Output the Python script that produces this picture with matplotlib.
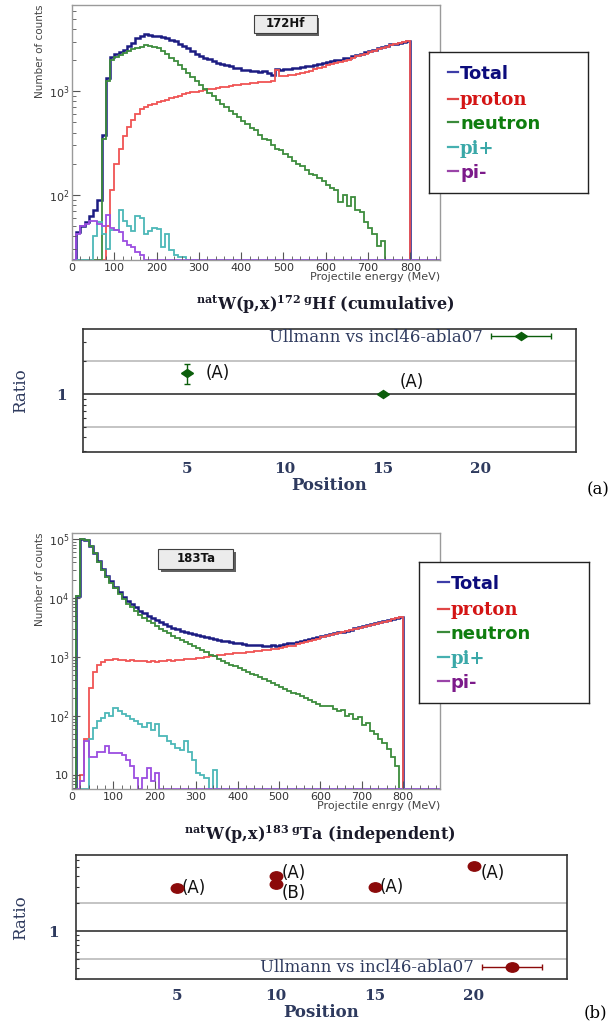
import matplotlib

matplotlib.use("Agg")

import matplotlib.pyplot as plt
import numpy as np
from matplotlib.legend_handler import HandlerErrorbar
from matplotlib.markers import MarkerStyle
from matplotlib.patches import Rectangle
from matplotlib.ticker import FuncFormatter, LogLocator, MultipleLocator, NullFormatter
from matplotlib.transforms import Affine2D

BIN_MEV = 10  # histogram bin width, bins start at 0 MeV

# ---- natW(p,x)172Hf : counts per bin ----
hf_total = [
    0, 44, 50, 55, 62, 72, 90, 380, 1350, 2150,
    2300, 2400, 2500, 2750, 2950, 3250, 3450, 3550, 3500, 3450,
    3400, 3350, 3250, 3150, 3050, 2900, 2750, 2600, 2450, 2300,
    2200, 2100, 2050, 1950, 1900, 1850, 1780, 1750, 1700, 1680,
    1620, 1600, 1580, 1560, 1540, 1560, 1520, 1430, 1650, 1620,
    1660, 1650, 1680, 1700, 1720, 1740, 1760, 1800, 1830, 1870,
    1910, 1950, 1990, 2030, 2080, 2120, 2200, 2250, 2300, 2380,
    2450, 2500, 2600, 2700, 2750, 2850, 2900, 2950, 3000, 3100,
]
hf_proton = [
    0, 0, 0, 0, 0, 0, 0, 0, 50, 110,
    200, 280, 370, 450, 530, 610, 670, 700, 730, 760,
    790, 800, 820, 860, 880, 900, 940, 960, 990, 980,
    1010, 1040, 1060, 1050, 1080, 1100, 1100, 1130, 1150, 1140,
    1170, 1180, 1200, 1200, 1220, 1230, 1240, 1250, 1600, 1400,
    1420, 1430, 1450, 1480, 1520, 1550, 1590, 1640, 1680, 1730,
    1780, 1830, 1880, 1920, 1970, 2020, 2120, 2180, 2230, 2320,
    2400, 2450, 2550, 2650, 2700, 2800, 2870, 2920, 2980, 3080,
]
hf_neutron = [
    0, 0, 0, 0, 0, 0, 0, 350, 1250, 2000,
    2150, 2250, 2350, 2450, 2550, 2600, 2700, 2800, 2750, 2680,
    2600, 2450, 2300, 2100, 1950, 1800, 1650, 1500, 1380, 1250,
    1150, 1050, 970, 900, 830, 760, 700, 650, 600, 560,
    520, 480, 440, 420, 380, 350, 340, 300, 280, 270,
    250, 230, 210, 200, 190, 175, 160, 155, 145, 135,
    125, 115, 110, 85, 100, 78, 95, 72, 68, 55,
    48, 42, 32, 36, 0, 0, 0, 0, 0, 0,
]
hf_piplus = [
    0, 0, 0, 0, 0, 40, 55, 42, 30, 46,
    46, 72, 56, 50, 45, 62, 60, 42, 45, 48,
    47, 31, 42, 29, 26, 25, 25,
]
hf_piminus = [
    0, 42, 50, 52, 56, 56, 52, 50, 64, 48,
    46, 44, 36, 33, 31, 28, 26,
]

# ---- natW(p,x)183Ta : counts per bin ----
ta_total = [
    0, 11000, 100000, 95000, 75000, 58000, 42000, 31000, 24000, 19000,
    15500, 12500, 10500, 9000, 7800, 6900, 6100, 5500, 5000, 4600,
    4200, 3900, 3600, 3350, 3150, 2950, 2800, 2650, 2550, 2450,
    2350, 2250, 2200, 2100, 2050, 1950, 1900, 1850, 1800, 1750,
    1700, 1660, 1620, 1590, 1570, 1580, 1530, 1520, 1580, 1550,
    1620, 1650, 1700, 1720, 1780, 1850, 1920, 2000, 2080, 2160,
    2250, 2330, 2420, 2500, 2600, 2700, 2800, 2920, 3050, 3170,
    3300, 3430, 3570, 3700, 3850, 4000, 4150, 4350, 4550, 4800,
]
ta_proton = [
    0, 0, 10, 40, 300, 550, 720, 820, 900, 880,
    920, 880, 900, 870, 880, 860, 850, 870, 830, 850,
    820, 860, 850, 880, 870, 880, 900, 920, 910, 940,
    960, 970, 1000, 1020, 1050, 1070, 1100, 1120, 1130, 1150,
    1170, 1190, 1210, 1230, 1250, 1270, 1300, 1320, 1350, 1380,
    1420, 1460, 1520, 1560, 1630, 1700, 1780, 1860, 1950, 2040,
    2140, 2230, 2330, 2420, 2520, 2630, 2730, 2850, 2980, 3100,
    3240, 3370, 3510, 3650, 3800, 3960, 4120, 4320, 4530, 4780,
]
ta_neutron = [
    0, 11000, 100000, 95000, 75000, 57000, 41000, 30000, 23000, 18000,
    14500, 11500, 9500, 8000, 6900, 6000, 5200, 4600, 4100, 3700,
    3350, 3000, 2750, 2500, 2300, 2100, 1950, 1800, 1650, 1520,
    1400, 1300, 1200, 1100, 1020, 940, 860, 800, 740, 690,
    640, 600, 560, 520, 490, 460, 420, 390, 360, 340,
    310, 290, 270, 250, 240, 220, 200, 190, 175, 160,
    150, 145, 150, 130, 120, 128, 100, 110, 90, 95,
    70, 75, 55, 50, 40, 35, 28, 20, 14, 0,
]
ta_piplus = [
    0, 0, 0, 0, 40, 63, 82, 93, 114, 100,
    139, 122, 110, 100, 90, 82, 72, 66, 77, 59,
    72, 45, 45, 37, 33, 29, 27, 37, 25, 18,
    11, 10, 9, 0, 12,
]
ta_piminus = [
    0, 0, 8, 37, 20, 20, 25, 25, 31, 24,
    24, 24, 22, 18, 14, 9, 0, 9, 13, 8,
    11,
]

series_names = ["Total", "proton", "neutron", "pi+", "pi-"]

# ---- ratio panels ----
ratio_label = "Ullmann vs incl46-abla07"
hf_pos = [5, 15]
hf_ratio = [1.56, 1.0]
hf_err = [0.32, 0.0]
hf_tags = ["(A)", "(A)"]

ta_pos = [5, 10, 10, 15, 20]
ta_ratio = [2.93, 4.01, 3.23, 3.05, 5.11]
ta_tags = ["(A)", "(A)", "(B)", "(A)", "(A)"]

LINE_COLORS = ["#1c1c82", "#f05454", "#3d8c3d", "#4cb8b8", "#9b4de0"]
DASH_COLORS = ["#3d3da8", "#e04646", "#3a8a3a", "#46b0b0", "#9a44a8"]
TEXT_COLORS = ["#0c0c7c", "#d41414", "#0f7d0f", "#3aa8a8", "#7c1a8a"]
TEXT_FAMILY = ["DejaVu Sans", "DejaVu Serif", "DejaVu Sans", "DejaVu Serif", "DejaVu Sans"]
NAVY = "#2e3a5e"

W, H = 611, 1027


def px_box(x0, y0, x1, y1):
    """pixel box of the reference -> figure fraction rect"""
    return [x0 / W, 1 - y1 / H, (x1 - x0) / W, (y1 - y0) / H]


def draw_spectrum(ax, series, xmax, ylim, tag, tag_box, xlabel):
    nbins = int(np.ceil(xmax / BIN_MEV))
    edges = np.arange(nbins + 1) * BIN_MEV
    for values, color, lw in series:
        v = np.zeros(nbins)
        v[: len(values)] = values
        v = np.where(v > 0, v, ylim[0])
        ax.stairs(v, edges, color=color, lw=lw, baseline=None)
    ax.set_yscale("log")
    ax.set_xlim(0, xmax)
    ax.set_ylim(*ylim)
    for s in ax.spines.values():
        s.set_color("#9a9a9a")
        s.set_linewidth(1.0)
    ax.xaxis.set_major_locator(MultipleLocator(100))
    ax.xaxis.set_minor_locator(MultipleLocator(20))
    ax.yaxis.set_major_locator(LogLocator(base=10))
    ax.yaxis.set_minor_locator(LogLocator(base=10, subs=np.arange(2, 10)))
    ax.yaxis.set_minor_formatter(NullFormatter())
    ax.yaxis.set_major_formatter(
        FuncFormatter(lambda v, _: "10" if round(v) == 10 else f"$10^{{{int(round(np.log10(v)))}}}$")
    )
    ax.tick_params(which="both", direction="in", colors="#555555", labelcolor="#333333", labelsize=8, pad=2)
    ax.tick_params(which="major", length=6)
    ax.tick_params(which="minor", length=3)
    ax.text(-0.088, 1.0, "Number of counts", transform=ax.transAxes, rotation=90,
            ha="center", va="top", fontsize=7.5, color="#444444")
    ax.text(1.0, -0.068, xlabel, transform=ax.transAxes, ha="right", va="center",
            fontsize=8, color="#444444")

    x0, y0, x1, y1 = tag_box
    ax.add_patch(Rectangle((x0 + 0.006, y0 - 0.012), x1 - x0, y1 - y0, transform=ax.transAxes,
                           fc="#606060", ec="none", zorder=4))
    ax.add_patch(Rectangle((x0, y0), x1 - x0, y1 - y0, transform=ax.transAxes,
                           fc="#ececec", ec="#404040", lw=0.8, zorder=5))
    ax.text((x0 + x1) / 2, (y0 + y1) / 2, tag, transform=ax.transAxes, ha="center", va="center",
            fontsize=8.5, fontweight="bold", color="#111111", zorder=6)


def draw_key(fig, rect, x_dash, x_text):
    ax = fig.add_axes(rect)
    ax.set_xticks([])
    ax.set_yticks([])
    ax.set_xlim(0, 1)
    ax.set_ylim(0, 1)
    for s in ax.spines.values():
        s.set_color("#222222")
        s.set_linewidth(1.0)
    rows = [0.845, 0.66, 0.492, 0.315, 0.145]
    for name, y, dc, tc, fam in zip(series_names, rows, DASH_COLORS, TEXT_COLORS, TEXT_FAMILY):
        ax.plot([x_dash, x_text - 0.01], [y + 0.01, y + 0.01], color=dc, lw=1.6)
        ax.text(x_text, y, name, ha="left", va="center", fontsize=13, fontweight="bold",
                color=tc, family=fam)


def draw_ratio(ax, pos, ratio, err, tags, offsets, marker, color, ms, xlim, ylim, leg_anchor, leg_loc):
    ax.set_yscale("log")
    ax.set_xlim(*xlim)
    ax.set_ylim(*ylim)
    ax.axhline(2.0, color="#c4c4c4", lw=1.4, zorder=1)
    ax.axhline(0.5, color="#c4c4c4", lw=1.4, zorder=1)
    ax.axhline(1.0, color="#222222", lw=1.1, zorder=1)
    ax.errorbar(pos, ratio, yerr=err, fmt="none", ecolor=color, elinewidth=1.0, capsize=2, zorder=3)
    ax.plot(pos, ratio, ls="none", marker=marker, ms=ms, color=color, mec=color, zorder=4)
    for x, y, t, off in zip(pos, ratio, tags, offsets):
        ax.annotate(t, (x, y), xytext=off, textcoords="offset points", ha="left", va="center",
                    fontsize=12, family="DejaVu Sans", color="#111111")

    # legend entry: marker with a horizontal error bar, text on its left
    proxy = ax.errorbar([np.nan], [np.nan], xerr=[1.0], fmt="none", ecolor=color,
                        elinewidth=1.0, capsize=2, label=ratio_label)
    mk = ax.plot([np.nan], [np.nan], ls="none", marker=marker, ms=ms, color=color)[0]
    leg = ax.legend([(proxy, mk)], [ratio_label], loc=leg_loc, bbox_to_anchor=leg_anchor,
                    frameon=False, markerfirst=False, borderaxespad=0, borderpad=0,
                    handlelength=3.6, handletextpad=0.5,
                    prop={"family": "DejaVu Serif", "size": 12},
                    handler_map={type(proxy): HandlerErrorbar(xerr_size=1.8)})
    for t in leg.get_texts():
        t.set_color(NAVY)

    for s in ax.spines.values():
        s.set_color("#333333")
        s.set_linewidth(1.2)
    ax.set_xticks([5, 10, 15, 20])
    ax.set_yticks([1.0])
    ax.set_yticklabels(["1"])
    ax.yaxis.set_minor_locator(LogLocator(base=10, subs=np.arange(2, 10)))
    ax.yaxis.set_minor_formatter(NullFormatter())
    ax.tick_params(axis="x", which="both", length=0, pad=7)
    ax.tick_params(axis="y", which="major", length=0, pad=12)
    ax.tick_params(axis="y", which="minor", direction="in", length=2.5, width=0.8, color="#333333")
    for lab in ax.get_xticklabels() + ax.get_yticklabels():
        lab.set_family("DejaVu Serif")
        lab.set_fontweight("bold")
        lab.set_fontsize(11)
        lab.set_color(NAVY)
    ax.set_xlabel("Position", family="DejaVu Serif", fontweight="bold", fontsize=12, color=NAVY, labelpad=1)
    ax.set_ylabel("Ratio", family="DejaVu Serif", fontsize=12, color=NAVY)


def main():
    fig = plt.figure(figsize=(W / 100, H / 100), dpi=100)
    fig.patch.set_facecolor("white")

    widths = [1.8, 1.3, 1.3, 1.3, 1.3]

    # panel (a) spectrum
    ax1 = fig.add_axes(px_box(72, 5, 440, 260))
    draw_spectrum(ax1, list(zip([hf_total, hf_proton, hf_neutron, hf_piplus, hf_piminus], LINE_COLORS, widths)),
                  870, (23.4, 6840), "172Hf", (0.495, 0.89, 0.666, 0.961), "Projectile energy (MeV)")
    draw_key(fig, px_box(429, 52, 588, 193), 0.12, 0.195)

    fig.text(325 / W, 1 - 305 / H, r"$^{\mathbf{nat}}$W(p,x)$^{\mathbf{172\ g}}$Hf (cumulative)",
             ha="center", va="center", family="DejaVu Serif", fontweight="bold", fontsize=11.5,
             color="#1a1a2a", math_fontfamily="dejavuserif")

    diamond = MarkerStyle("D", transform=Affine2D().scale(1.0, 0.75))
    ax2 = fig.add_axes(px_box(83, 329, 576, 452))
    draw_ratio(ax2, hf_pos, hf_ratio, [hf_err, hf_err], hf_tags, [(13, 0), (12, 9)],
               diamond, "#0b5e0b", 6, (-0.32, 24.87), (0.294, 3.95), (0.949, 0.929), "center right")
    ax2.yaxis.set_label_coords(-0.11, 0.5)
    fig.text(609 / W, 1 - 490 / H, "(a)", ha="right", va="center", family="DejaVu Serif", fontsize=12)

    # panel (b) spectrum
    ax3 = fig.add_axes(px_box(72, 533, 440, 789))
    draw_spectrum(ax3, list(zip([ta_total, ta_proton, ta_neutron, ta_piplus, ta_piminus], LINE_COLORS, widths)),
                  889, (5.8, 1.26e5), "183Ta", (0.2345, 0.861, 0.4383, 0.939), "Projectile enrgy (MeV)")
    draw_key(fig, px_box(419, 562, 589, 703), 0.11, 0.185)

    fig.text(320 / W, 1 - 835 / H, r"$^{\mathbf{nat}}$W(p,x)$^{\mathbf{183\ g}}$Ta (independent)",
             ha="center", va="center", family="DejaVu Serif", fontweight="bold", fontsize=11.5,
             color="#1a1a2a", math_fontfamily="dejavuserif")

    ellipse = MarkerStyle("o", transform=Affine2D().scale(1.0, 0.75))
    ax4 = fig.add_axes(px_box(75.5, 855, 566.6, 979.3))
    draw_ratio(ax4, ta_pos, ta_ratio, None, ta_tags, [(3, 0), (4, 2), (4, -6.5), (3.6, 0), (5, -5)],
               ellipse, "#8b0a0a", 9, (-0.14, 24.7), (0.30, 6.73), (0.95, 0.091), "center right")
    ax4.yaxis.set_label_coords(-0.095, 0.5)
    fig.text(607 / W, 1 - 1013 / H, "(b)", ha="right", va="center", family="DejaVu Serif", fontsize=12)

    fig.savefig("out.png", dpi=100)
    plt.close(fig)


if __name__ == "__main__":
    main()
